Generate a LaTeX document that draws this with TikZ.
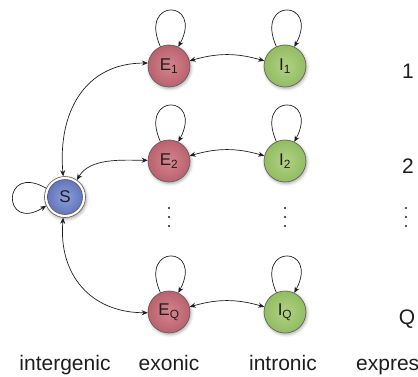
\documentclass[tikz,border=0pt]{standalone}
\usepackage{fontspec}
\setmainfont{Liberation Sans}
\usetikzlibrary{arrows.meta,shadows.blur}
\definecolor{Eout}{RGB}{186,98,110}
\definecolor{Ein}{RGB}{212,132,142}
\definecolor{Iout}{RGB}{146,188,98}
\definecolor{Iin}{RGB}{178,210,132}
\definecolor{Sout}{RGB}{98,118,190}
\definecolor{Sin}{RGB}{140,158,216}
\definecolor{ink}{RGB}{30,30,30}
\begin{document}
\begin{tikzpicture}[x=1pt,y=1pt,
  tip/.tip={Stealth[length=6pt,width=5pt]},
  st/.style={circle, minimum size=42pt, inner sep=0pt, draw=black!65, line width=0.6pt,
    font=\fontsize{17}{17}\selectfont, text=ink,
    blur shadow={shadow xshift=1pt,shadow yshift=-1.5pt,shadow blur radius=3pt,shadow opacity=35}},
  ex/.style={st, shading=radial, inner color=Ein, outer color=Eout},
  intr/.style={st, shading=radial, inner color=Iin, outer color=Iout},
  con/.style={line width=0.7pt, draw=ink, {tip}-{tip}},
  lp/.style={line width=0.7pt, draw=ink, -{tip}},
  lab/.style={font=\fontsize{21}{21}\selectfont, text=ink, inner sep=0pt},
  dot/.style={fill=ink}
]
\useasboundingbox (0,0) rectangle (418,376);
\clip (0,0) rectangle (418,376);

% start state
\node[circle, minimum size=41pt, inner sep=0pt, draw=black!65, line width=0.6pt, fill=white,
  blur shadow={shadow xshift=1pt,shadow yshift=-1.5pt,shadow blur radius=3pt,shadow opacity=35}] (S) at (65,179) {};
\node[circle, minimum size=35pt, inner sep=0pt, draw=black!65, line width=0.6pt,
  shading=radial, inner color=Sin, outer color=Sout,
  font=\fontsize{17}{17}\selectfont, text=ink] (Si) at (65,179) {S};

% exonic / intronic states
\node[ex] (E1) at (169,310) {E\textsubscript{1}};
\node[intr] (I1) at (285,310) {I\textsubscript{1}};
\node[ex] (E2) at (169,215) {E\textsubscript{2}};
\node[intr] (I2) at (285,215) {I\textsubscript{2}};
\node[ex] (EQ) at (169,64) {E\textsubscript{Q}};
\node[intr] (IQ) at (285,64) {I\textsubscript{Q}};

% self loops
\foreach \n in {E1,I1,E2,I2,EQ,IQ}{
  \draw[lp] (\n.114) .. controls +(114:54) and +(62:54) .. (\n.64);
}
\draw[lp] (S.155) .. controls +(150:52) and +(212:52) .. (S.205);

% transitions
\draw[con] (S.95) to[out=95, in=180, looseness=1.15] (E1.172);
\draw[con] (S.55) to[out=60, in=180, looseness=0.9] (E2.178);
\draw[con] (S.265) to[out=265, in=180, looseness=1.15] (EQ.182);
\draw[con] (E1.14) to[bend left=16] (I1.166);
\draw[con] (E2.14) to[bend left=16] (I2.166);
\draw[con] (EQ.14) to[bend left=16] (IQ.166);

% vertical dots
\foreach \x in {169,285,406}{
  \foreach \y in {150,159,168}{
    \fill[dot] (\x,\y) circle (1.1pt);
  }
}

% row labels
\node[lab] (r1) at (408,305) {1};
\node[lab] (r2) at (408,210) {2};
\node[lab] (rQ) at (407,57) {Q};

% column labels
\node[lab, anchor=base] (c1) at (65,6) {intergenic};
\node[lab, anchor=base] (c2) at (169,6) {exonic};
\node[lab, anchor=base] (c3) at (283,6) {intronic};
\node[lab, anchor=base west] (c4) at (356,6) {expression};
\end{tikzpicture}
\end{document}
